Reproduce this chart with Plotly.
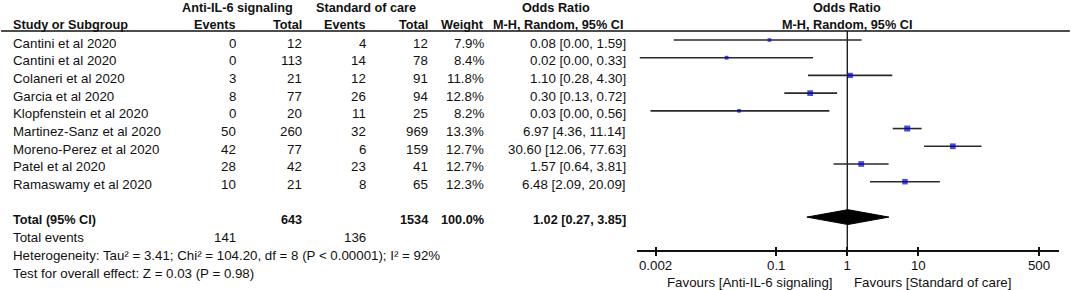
import plotly.graph_objects as go

# ---------------- data ----------------
studies = ["Cantini et al 2020", "Cantini et al 2020", "Colaneri et al 2020", "Garcia et al 2020",
           "Klopfenstein et al 2020", "Martinez-Sanz et al 2020", "Moreno-Perez et al 2020",
           "Patel et al 2020", "Ramaswamy et al 2020"]
anti_events = [0, 0, 3, 8, 0, 50, 42, 28, 10]
anti_total = [12, 113, 21, 77, 20, 260, 77, 42, 21]
soc_events = [4, 14, 12, 26, 11, 32, 6, 23, 8]
soc_total = [12, 78, 91, 94, 25, 969, 159, 41, 65]
weights = [7.9, 8.4, 11.8, 12.8, 8.2, 13.3, 12.7, 12.7, 12.3]
or_est = [0.08, 0.02, 1.10, 0.30, 0.03, 6.97, 30.60, 1.57, 6.48]
ci_lo = [0.0036, 0.0012, 0.28, 0.13, 0.0017, 4.36, 12.06, 0.64, 2.09]
ci_hi = [1.59, 0.33, 4.30, 0.72, 0.56, 11.14, 77.63, 3.81, 20.09]

total_anti_n = 643
total_soc_n = 1534
total_weight = "100.0%"
pooled = [0.27, 1.02, 3.85]
total_events = [141, 136]
heterogeneity = "Heterogeneity: Tau² = 3.41; Chi² = 104.20, df = 8 (P &lt; 0.00001); I² = 92%"
overall = "Test for overall effect: Z = 0.03 (P = 0.98)"
tick_vals = [0.002, 0.1, 1, 10, 500]
tick_text = ["0.002", "0.1", "1", "10", "500"]
favours_left = "Favours [Anti-IL-6 signaling]"
favours_right = "Favours [Standard of care]"

# ---------------- layout helpers ----------------
W, H = 1072, 290
FONT = "Arial, Liberation Sans, sans-serif"
FS = 13.3
FSB = 12.7
TXT = "#111111"
rows = list(range(len(studies)))
total_row = 10
TSHIFT = -3
ROW0, ROWH = 40.0, 17.71          # pixel of row 0 and pixel height of a row
AXIS_PX = 251                      # pixel row of the x axis line


def prow(p):
    return (p - ROW0) / ROWH


fig = go.Figure()


def px(x):
    return x / W


def ann(text, x, row, anchor="right", bold=False):
    fig.add_annotation(
        text=("<b>%s</b>" % text) if bold else text,
        x=px(x), xref="paper", y=row, yref="y",
        xanchor=anchor, yanchor="middle", showarrow=False, yshift=TSHIFT,
        borderpad=0, borderwidth=0,
        font=dict(family=FONT, size=FSB if bold else FS, color=TXT),
    )


# headers
ann("Anti-IL-6 signaling", 237.5, -2, "center", True)
ann("Standard of care", 365.5, -2, "center", True)
ann("Odds Ratio", 556, -2, "center", True)
ann("Odds Ratio", 847, -2, "center", True)
ann("Study or Subgroup", 12.5, -1, "left", True)
ann("Events", 236, -1, "right", True)
ann("Total", 302, -1, "right", True)
ann("Events", 366, -1, "right", True)
ann("Total", 428, -1, "right", True)
ann("Weight", 483.5, -1, "right", True)
ann("M-H, Random, 95% CI", 623, -1, "right", True)
ann("M-H, Random, 95% CI", 847, -1, "center", True)

# study rows
for i, s in enumerate(studies):
    r = rows[i]
    ann(s, 12.5, r, "left")
    ann(str(anti_events[i]), 236, r)
    ann(str(anti_total[i]), 302, r)
    ann(str(soc_events[i]), 366, r)
    ann(str(soc_total[i]), 428, r)
    ann("%.1f%%" % weights[i], 483.5, r)
    ann("%.2f [%.2f, %.2f]" % (or_est[i], ci_lo[i], ci_hi[i]), 626, r)

# totals
ann("Total (95% CI)", 12.5, total_row, "left", True)
ann(str(total_anti_n), 302, total_row, "right", True)
ann(str(total_soc_n), 428, total_row, "right", True)
ann(total_weight, 483.5, total_row, "right", True)
ann("%.2f [%.2f, %.2f]" % (pooled[1], pooled[0], pooled[2]), 626, total_row, "right", True)
ann("Total events", 12.5, 11, "left")
ann(str(total_events[0]), 236, 11)
ann(str(total_events[1]), 366, 11)
ann(heterogeneity, 12.5, 12, "left")
ann(overall, 12.5, 13, "left")

# favours labels
ann(favours_left, 833, 13.5, "right")
ann(favours_right, 854, 13.5, "left")

# header rule
fig.add_shape(type="line", xref="paper", yref="y", x0=0.001, x1=0.998,
              y0=prow(31), y1=prow(31), line=dict(color="#111111", width=1.5))

# line of no effect
fig.add_trace(go.Scatter(x=[1, 1], y=[prow(31), prow(AXIS_PX)], mode="lines",
                         line=dict(color="#111111", width=1.3), hoverinfo="skip", showlegend=False))

# CI lines
cx, cy = [], []
for i in range(len(studies)):
    cx += [ci_lo[i], ci_hi[i], None]
    cy += [rows[i], rows[i], None]
fig.add_trace(go.Scatter(x=cx, y=cy, mode="lines", line=dict(color="#2a2a2a", width=1.6),
                         hoverinfo="skip", showlegend=False))

# study markers
fig.add_trace(go.Scatter(x=or_est, y=rows, mode="markers",
                         marker=dict(symbol="square", color="#0000CC",
                                     size=[w * 0.45 for w in weights], line=dict(width=0)),
                         showlegend=False))

# pooled diamond
dh = 0.42
fig.add_trace(go.Scatter(x=[pooled[0], pooled[1], pooled[2], pooled[1], pooled[0]],
                         y=[total_row, total_row - dh, total_row, total_row + dh, total_row],
                         mode="lines", fill="toself", fillcolor="#000000",
                         line=dict(color="#000000", width=1), hoverinfo="skip", showlegend=False))

# invisible trace on second x axis (inner tick marks)
fig.add_trace(go.Scatter(x=[1], y=[0], xaxis="x2", yaxis="y", mode="markers",
                         marker=dict(opacity=0), hoverinfo="skip", showlegend=False))

xdom = [637 / W, 1059 / W]
axis_pos = (H - AXIS_PX) / H
fig.update_layout(
    width=W, height=H,
    margin=dict(l=0, r=0, t=0, b=0),
    paper_bgcolor="white", plot_bgcolor="white",
    xaxis=dict(type="log", range=[-2.96, 2.98], domain=xdom, anchor="free", position=axis_pos,
               tickvals=tick_vals, ticktext=tick_text, ticks="outside", ticklen=4,
               tickwidth=1.5, tickcolor="#111111", ticklabelstandoff=-2,
               showline=True, linecolor="#111111", linewidth=1.5, showgrid=False, zeroline=False,
               tickfont=dict(family=FONT, size=FS, color=TXT)),
    xaxis2=dict(type="log", range=[-2.96, 2.98], domain=xdom, anchor="free", position=axis_pos,
                overlaying="x", side="bottom", tickvals=tick_vals, ticks="inside", ticklen=4,
                tickwidth=1.5, tickcolor="#111111", showticklabels=False, showline=False,
                showgrid=False, zeroline=False),
    yaxis=dict(range=[prow(H), prow(0)], domain=[0, 1], visible=False, showgrid=False,
               zeroline=False, fixedrange=True),
    showlegend=False,
)

fig.write_html("out.html", config={"displayModeBar": False},
               post_script="document.body.style.margin='0';")
